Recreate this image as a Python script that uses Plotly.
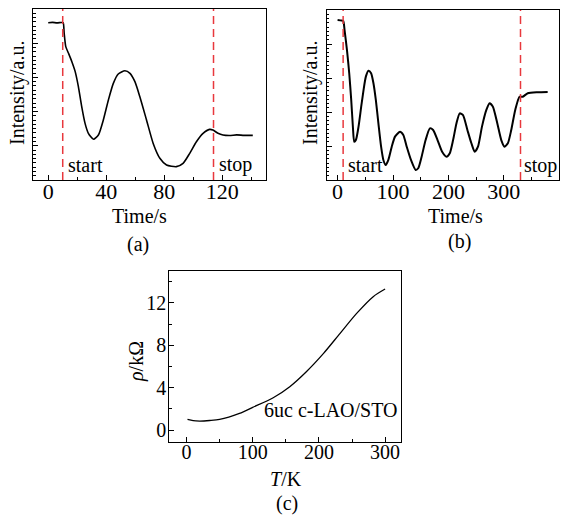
import plotly.graph_objects as go

W, H = 573, 516
FONT = "Liberation Serif, Times New Roman, serif"

# (a) growth intensity vs time, first sample
time_a = [0, 3, 6, 9, 10.3, 11.0, 12.1, 14.0, 16.3, 18.6, 20.8, 23.1, 25.4, 27.7, 31.2,
          34.6, 38.0, 41.5, 44.9, 48.3, 52.9, 56.4, 59.8, 63.2, 67.8, 72.4, 77.0, 81.6,
          88.4, 93.0, 97.6, 102.2, 106.8, 111.3, 113.6, 117.1, 120.5, 125, 130, 135, 141.1]
intensity_a = [92.0, 92.2, 91.9, 92.1, 92.0, 85.8, 78.0, 74.1, 69.2, 63.4, 54.6, 42.9, 33.1,
               27.3, 23.8, 26.3, 35.1, 46.8, 56.5, 62.0, 63.9, 62.4, 57.5, 48.7, 35.1, 21.4,
               12.7, 8.8, 7.8, 9.7, 15.6, 22.4, 27.3, 29.6, 29.2, 27.3, 26.3, 26.0, 26.4,
               26.1, 26.1]

# (b) growth intensity vs time, second sample
time_b = [0, 5, 10, 12.6, 16.9, 21, 24.6, 27.6, 30, 33, 37.8, 42.6, 46.8, 51, 55.7, 60.5,
          64.7, 69, 73.6, 78.5, 82.6, 86.9, 91.6, 97.7, 103.6, 112.6, 118.6, 124.7, 132.4,
          140.8, 145.5, 151.6, 158.8, 166.5, 172.4, 180.3, 188.6, 196.5, 202.4, 208.4,
          214.5, 220.4, 226.3, 234.2, 241.4, 247.4, 253.3, 260.5, 268.4, 274.3, 280.2,
          288.1, 295.3, 301.2, 307.2, 313.3, 320.5, 328.2, 334.1, 343.1, 361.1, 379]
intensity_b = [94.1, 93.9, 93.7, 88.2, 76.5, 62.8, 47.1, 31.4, 22.5, 23.5, 31.4, 43.1, 52.9,
               60.8, 64.3, 62.8, 56.9, 47.1, 33.4, 19.6, 11.8, 8.8, 11.8, 19.6, 25.5, 28.4,
               26.5, 19.6, 11.8, 5.9, 6.9, 13.7, 23.5, 30.4, 29.4, 23.5, 16.6, 13.7, 15.7,
               23.5, 33.4, 39.2, 38.2, 29.4, 21.6, 16.6, 19.6, 31.4, 41.2, 45.1, 43.1, 33.4,
               23.5, 19.6, 21.6, 29.4, 41.2, 49.0, 49.0, 51.0, 51.6, 51.8]

# (c) resistivity vs temperature
temp_c = [1.5, 10, 20, 35, 50, 80, 100, 131, 156, 181, 207, 232, 257, 282, 300]
rho_c = [1.0, 0.88, 0.85, 0.9, 1.0, 1.57, 2.14, 3.05, 4.09, 5.5, 7.23, 9.12, 11.0, 12.58, 13.3]

# growth start / stop markers (s)
marks_a = [10, 114]
marks_b = [10, 330]

xticks_a = [0, 40, 80, 120]
xticks_b = [0, 100, 200, 300, 400]
xticks_c = [0, 100, 200, 300]
yticks_c = [0, 4, 8, 12]

fig = go.Figure()
fig.add_trace(go.Scatter(x=time_a, y=intensity_a, mode="lines", xaxis="x", yaxis="y",
                         line=dict(color="black", width=1.6, shape="spline", smoothing=0.6)))
fig.add_trace(go.Scatter(x=time_b, y=intensity_b, mode="lines", xaxis="x2", yaxis="y2",
                         line=dict(color="black", width=2.0, shape="spline", smoothing=0.6)))
fig.add_trace(go.Scatter(x=temp_c, y=rho_c, mode="lines", xaxis="x3", yaxis="y3",
                         line=dict(color="black", width=1.3, shape="spline", smoothing=0.8)))

def px(x):
    return x / W

def py(y):
    return 1 - y / H

def frame(size, standoff=0):
    return dict(showline=True, linecolor="black", linewidth=1.3, mirror=True,
                showgrid=False, zeroline=False, ticks="inside", tickcolor="black",
                tickwidth=1, ticklen=5, ticklabelstandoff=standoff,
                tickfont=dict(family=FONT, size=size, color="black"))

fig.update_layout(
    width=W, height=H, margin=dict(l=0, r=0, t=0, b=0),
    paper_bgcolor="white", plot_bgcolor="white", showlegend=False,
    font=dict(family=FONT, color="black"),
    xaxis=dict(domain=[px(33), px(265.7)], range=[-10.5, 150], tickvals=xticks_a,
               minor=dict(dtick=20, tick0=0, ticks="inside", ticklen=3, tickcolor="black"),
               anchor="y", **frame(22, -9)),
    yaxis=dict(domain=[py(180), py(9)], range=[0, 100], dtick=20, tick0=0,
               showticklabels=False,
               minor=dict(dtick=2.5, ticks="inside", ticklen=2.5, tickcolor="black"),
               anchor="x", **frame(20)),
    xaxis2=dict(domain=[px(326.5), px(559.3)], range=[-20, 400], tickvals=xticks_b,
                minor=dict(dtick=50, tick0=0, ticks="inside", ticklen=3, tickcolor="black"),
                anchor="y2", **frame(22, -9)),
    yaxis2=dict(domain=[py(180), py(10)], range=[0, 100], dtick=20, tick0=0,
                showticklabels=False,
                minor=dict(dtick=2.5, ticks="inside", ticklen=2.5, tickcolor="black"),
                anchor="x2", **frame(20)),
    xaxis3=dict(domain=[px(169.3), px(401)], range=[-26, 324], tickvals=xticks_c,
                minor=dict(dtick=50, tick0=0, ticks="inside", ticklen=3, tickcolor="black"),
                anchor="y3", **frame(20, -8)),
    yaxis3=dict(domain=[py(441.7), py(271)], range=[-1.1, 15], tickvals=yticks_c,
                minor=dict(dtick=2, tick0=0, ticks="inside", ticklen=3, tickcolor="black"),
                anchor="x3", **frame(20, -2)),
)

# dashed start/stop lines
for xr, yr, marks in (("x", "y", marks_a), ("x2", "y2", marks_b)):
    for m in marks:
        fig.add_shape(type="line", xref=xr, yref=f"{yr} domain", x0=m, x1=m, y0=0, y1=1,
                      line=dict(color="#e8383d", width=1.5, dash="8px,5px"))

def label(text, x, y, size=20, angle=0, xanchor="center", xref="paper", yref="paper"):
    fig.add_annotation(text=text, x=x, y=y, xref=xref, yref=yref, showarrow=False,
                       xanchor=xanchor, yanchor="middle", textangle=angle,
                       font=dict(family=FONT, size=size, color="black"))

# start / stop captions inside the panels
label("start", 12.5, 8.8, xanchor="left", xref="x", yref="y")
label("stop", 116.5, 8.8, xanchor="left", xref="x", yref="y")
label("start", 15, 8.8, xanchor="left", xref="x2", yref="y2")
label("stop", 333, 8.8, xanchor="left", xref="x2", yref="y2")
label("6uc c-LAO/STO", 322, 1.9, xanchor="right", xref="x3", yref="y3")

# axis titles and panel letters
label("Time/s", px(139), py(216))
label("(a)", px(138), py(245))
label("Time/s", px(455), py(216))
label("(b)", px(459), py(242))
label("Intensity/a.u.", px(17), py(93), angle=-90)
label("Intensity/a.u.", px(310), py(93), angle=-90)
label("<i>ρ</i>/kΩ", px(136), py(362), angle=-90)
label("<i>T</i>/K", px(286), py(479))
label("(c)", px(287), py(503))

fig.write_html("out.html")
